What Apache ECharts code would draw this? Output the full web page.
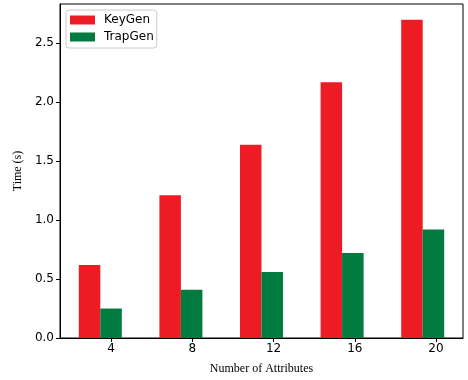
<!DOCTYPE html>
<html>
<head>
<meta charset="utf-8">
<script src="https://cdn.jsdelivr.net/npm/echarts@6/dist/echarts.min.js"></script>
<style>
  html, body { margin: 0; padding: 0; background: #fff; }
  #chart { width: 468px; height: 380px; }
</style>
</head>
<body>
<div id="chart"></div>
<script>
// Number of attributes on the x axis
const categories = ['4', '8', '12', '16', '20'];
const tickValues = [4, 8, 12, 16, 20];
// Running time in seconds
const keyGen = [0.62, 1.21, 1.64, 2.17, 2.70];
const trapGen = [0.25, 0.41, 0.56, 0.72, 0.92];
const yTicks = [0, 0.5, 1.0, 1.5, 2.0, 2.5];

const RED = '#ED1C24';
const GREEN = '#017B40';
const tickFont = 'DejaVu Sans';
const titleFont = 'Liberation Serif';

const chart = echarts.init(document.getElementById('chart'), null, { renderer: 'canvas' });

chart.setOption({
  animation: false,
  grid: {
    left: 60, right: 5, top: 4, bottom: 42,
    show: true, borderColor: '#000', borderWidth: 1
  },
  legend: {
    orient: 'vertical',
    left: 66, top: 10,
    padding: [3, 3, 4, 4],
    itemWidth: 25, itemHeight: 9, itemGap: 3,
    borderColor: '#cccccc', borderWidth: 1, borderRadius: 3,
    backgroundColor: '#fff',
    icon: 'rect',
    textStyle: { fontFamily: tickFont, fontSize: 12, lineHeight: 14, color: '#000', padding: [0, 0, 0, 4] },
    data: ['KeyGen', 'TrapGen']
  },
  xAxis: [
    {
      // bars are grouped per category
      type: 'category',
      data: categories,
      axisLine: { show: false },
      axisTick: { show: false },
      axisLabel: { show: false }
    },
    {
      // tick marks and labels sit under the TrapGen bars
      type: 'value',
      min: 1.48, max: 21.33,
      position: 'bottom',
      splitLine: { show: false },
      axisLine: { show: true, onZero: false, lineStyle: { color: '#000', width: 1 } },
      axisTick: { show: true, inside: false, length: 4, customValues: tickValues, lineStyle: { color: '#000' } },
      axisLabel: { customValues: tickValues, fontFamily: tickFont, fontSize: 12, color: '#000', margin: 5 },
      name: 'Number of Attributes',
      nameLocation: 'middle',
      nameGap: 25,
      nameTextStyle: { fontFamily: titleFont, fontSize: 12, color: '#000' }
    }
  ],
  yAxis: {
    type: 'value',
    min: 0, max: 2.833,
    splitLine: { show: false },
    axisLine: { show: true, lineStyle: { color: '#000', width: 1 } },
    axisTick: { show: true, inside: false, length: 4, customValues: yTicks, lineStyle: { color: '#000' } },
    axisLabel: {
      customValues: yTicks,
      fontFamily: tickFont, fontSize: 12, color: '#000', margin: 6,
      formatter: v => v.toFixed(1)
    },
    name: 'Time (s)',
    nameLocation: 'middle',
    nameGap: 31,
    nameTextStyle: { fontFamily: titleFont, fontSize: 12, color: '#000' }
  },
  series: [
    {
      name: 'KeyGen', type: 'bar', xAxisIndex: 0,
      data: keyGen, barWidth: 21.5, barGap: '0%',
      itemStyle: { color: RED }
    },
    {
      name: 'TrapGen', type: 'bar', xAxisIndex: 0,
      data: trapGen, barWidth: 21.5, barGap: '0%',
      itemStyle: { color: GREEN }
    }
  ]
});
</script>
</body>
</html>
